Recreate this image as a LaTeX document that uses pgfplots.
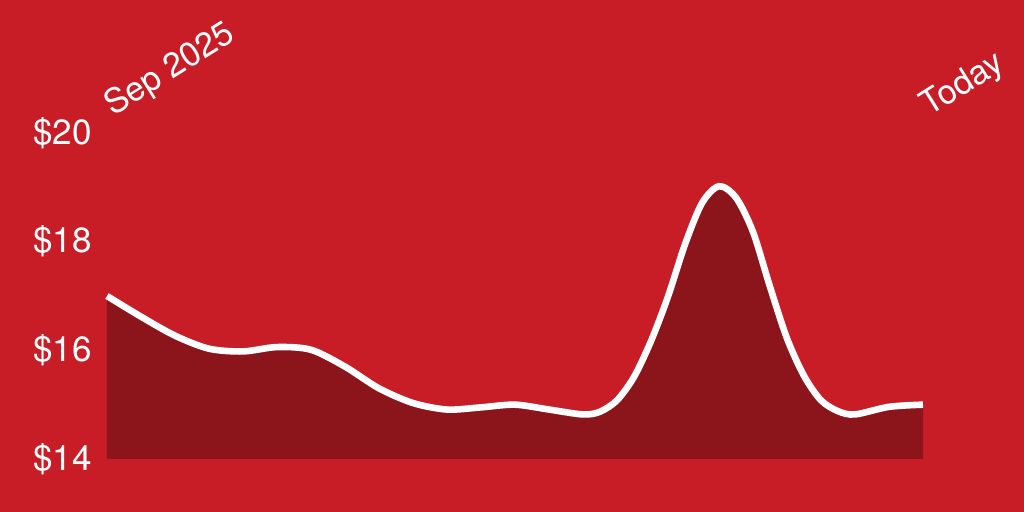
\documentclass[border=0pt]{standalone}
\usepackage{fontspec}
\setmainfont{TeX Gyre Heros}
\usepackage{pgfplots}
\pgfplotsset{compat=1.18}
\definecolor{bgred}{RGB}{200,29,38}
\definecolor{fillred}{RGB}{139,21,27}
% price curve, x = position along the period (0 = Sep 2025, 816 = today)
\pgfplotstableread{
x   y
0   17.00
34  16.62
68  16.27
102 16.03
136 15.98
170 16.06
204 16.01
238 15.70
272 15.30
306 15.03
340 14.91
374 14.95
408 15.00
442 14.91
476 14.82
493 14.87
510 15.08
527 15.51
544 16.17
561 16.99
578 17.95
595 18.71
612 19.02
629 18.81
646 18.18
663 17.17
680 16.22
697 15.53
714 15.08
731 14.88
748 14.82
782 14.96
816 15.00
}\price
\begin{document}
\begin{tikzpicture}
\fill[bgred] (0,0) rectangle (512pt,256pt);
\begin{axis}[
    at={(53.5pt,26.5pt)}, anchor=south west,
    scale only axis, width=408pt, height=163pt,
    xmin=0, xmax=816, ymin=14, ymax=20,
    axis line style={draw=none},
    major tick length=0pt,
    ytick={14,16,18,20},
    yticklabel={\$\pgfmathprintnumber{\tick}},
    yticklabel style={font=\fontsize{17.5}{17.5}\selectfont, text=white, inner sep=0pt, xshift=-7.5pt},
    xtick={0,816},
    xticklabels={Sep 2025, Today},
    xticklabel pos=upper,
    xticklabel style={font=\fontsize{17}{17}\selectfont, text=white, inner sep=0pt,
        anchor=base west, xshift=3pt, yshift=8pt, rotate=32},
    /pgf/number format/assume math mode=true,
    clip=false,
]
\addplot[draw=none, fill=fillred, smooth] table {\price} \closedcycle;
\addplot[white, line width=3.3pt, smooth] table {\price};
\end{axis}
\pgfresetboundingbox
\path (0,0) rectangle (512pt,256pt);
\end{tikzpicture}
\end{document}
